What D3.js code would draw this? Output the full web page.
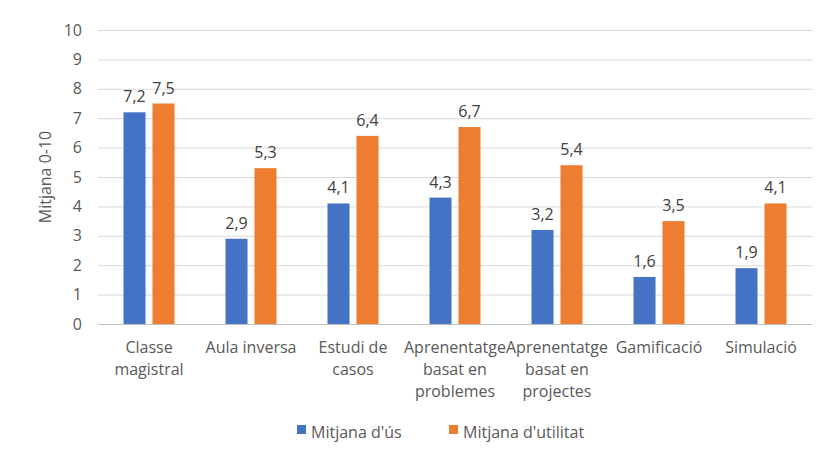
<!DOCTYPE html>
<html>
<head>
<meta charset="utf-8">
<script src="https://cdn.jsdelivr.net/npm/d3@7"></script>
<style>
  body { margin: 0; background: #fff; }
  text { font-family: "Open Sans", "Noto Sans", sans-serif; }
</style>
</head>
<body>
<svg id="chart" width="817" height="451"></svg>
<script>
var categories = ["Classe magistral", "Aula inversa", "Estudi de casos", "Aprenentatge basat en problemes", "Aprenentatge basat en projectes", "Gamificació", "Simulació"]
// label lines as they are wrapped in the picture
var catLines = [["Classe", "magistral"], ["Aula inversa"], ["Estudi de", "casos"], ["Aprenentatge", "basat en", "problemes"], ["Aprenentatge", "basat en", "projectes"], ["Gamificació"], ["Simulació"]]
var seriesNames = ["Mitjana d'ús", "Mitjana d'utilitat"]
var us = [7.2, 2.9, 4.1, 4.3, 3.2, 1.6, 1.9]
var utilitat = [7.5, 5.3, 6.4, 6.7, 5.4, 3.5, 4.1]
var yTicks = [0, 1, 2, 3, 4, 5, 6, 7, 8, 9, 10]
var colors = ["#4472c4", "#ed7d31"]

var margin = {top: 30, right: 5, bottom: 127, left: 98};
var width = 817 - margin.left - margin.right;
var height = 451 - margin.top - margin.bottom;

var svg = d3.select('#chart')
  .append('g')
    .attr('transform', 'translate(' + margin.left + ',' + margin.top + ')');

var x0 = d3.scaleBand().domain(categories).range([0, width]);
var x1 = d3.scaleBand().domain(seriesNames)
  .range([x0.bandwidth() * 0.25, x0.bandwidth() * 0.75])
  .paddingInner(0.24);
var y = d3.scaleLinear().domain([0, 10]).range([height, 0]);

// gridlines + y labels
var yAxis = svg.append("g")
  .call(d3.axisLeft(y).tickValues(yTicks).tickSize(-width).tickPadding(16));
yAxis.select(".domain").remove();
yAxis.selectAll("line").attr("stroke", "#d9d9d9");
yAxis.selectAll("text").attr("fill", "#595959").style("font-size", "16px");
yAxis.selectAll(".tick").filter(function(d) { return d == 0 }).select("line").attr("stroke", "#bfbfbf");

svg.append('text')
  .attr('transform', 'translate(-47,' + (height / 2) + ') rotate(-90)')
  .attr('text-anchor', 'middle')
  .attr('fill', '#595959')
  .style('font-size', '16px')
  .text('Mitjana 0-10');

var data = categories.map(function(c, i) {
  return {cat: c, values: [{name: seriesNames[0], value: us[i]}, {name: seriesNames[1], value: utilitat[i]}]}
});

var groups = svg.selectAll(".grp")
  .data(data)
  .enter()
  .append("g")
    .attr("transform", function(d) { return "translate(" + x0(d.cat) + ",0)" });

groups.selectAll("rect")
  .data(function(d) { return d.values })
  .enter()
  .append("rect")
    .attr("x", function(d) { return x1(d.name) })
    .attr("width", x1.bandwidth())
    .attr("y", function(d) { return y(d.value) })
    .attr("height", function(d) { return height - y(d.value) })
    .attr("fill", function(d, i) { return colors[i] });

groups.selectAll(".lbl")
  .data(function(d) { return d.values })
  .enter()
  .append("text")
    .attr("x", function(d) { return x1(d.name) + x1.bandwidth() / 2 })
    .attr("y", function(d) { return y(d.value) - 10 })
    .attr("text-anchor", "middle")
    .attr("fill", "#404040")
    .style("font-size", "16px")
    .text(function(d) { return String(d.value.toFixed(1)).replace(".", ",") });

// category labels
var xl = svg.append("g").attr("transform", "translate(0," + height + ")");
xl.selectAll("text")
  .data(categories)
  .enter()
  .append("text")
    .attr("x", function(d) { return x0(d) + x0.bandwidth() / 2 })
    .attr("y", 29)
    .attr("text-anchor", "middle")
    .attr("fill", "#595959")
    .style("font-size", "16px")
  .selectAll("tspan")
  .data(function(d, i) { return catLines[i] })
  .enter()
  .append("tspan")
    .attr("x", function() { var p = this.parentNode; return p.getAttribute("x") })
    .attr("dy", function(d, i) { return i == 0 ? 0 : 22 })
    .text(function(d) { return d });

// legend
var legend = svg.append("g").attr("transform", "translate(0," + (height + 108) + ")");
var legX = [199, 351];
seriesNames.forEach(function(s, i) {
  legend.append("rect")
    .attr("x", legX[i]).attr("y", -7)
    .attr("width", 9).attr("height", 9)
    .attr("fill", colors[i]);
  legend.append("text")
    .attr("x", legX[i] + 14).attr("y", 0)
    .attr("dy", "0.35em")
    .attr("fill", "#595959")
    .style("font-size", "16px")
    .text(s);
});
</script>
</body>
</html>
